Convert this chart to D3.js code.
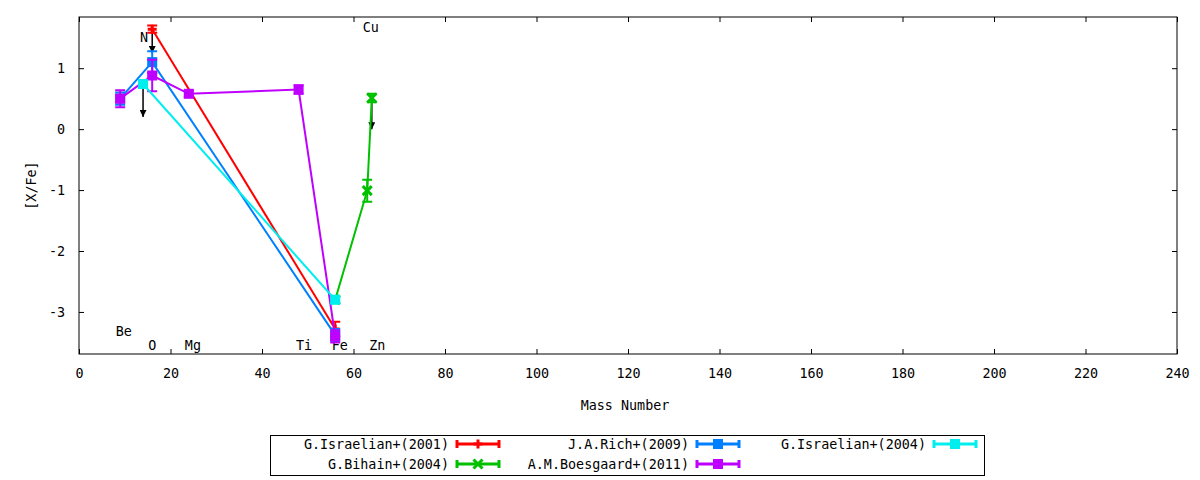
<!DOCTYPE html>
<html>
<head>
<meta charset="utf-8">
<script src="https://cdn.jsdelivr.net/npm/d3@7"></script>
<style>
  body { margin: 0; background: #fff; }
  text { font-family: "DejaVu Sans Mono", monospace; font-size: 13.4px; fill: #000; }
</style>
</head>
<body>
<div id="chart"></div>
<script>
// ---- data ----
const xTicks = [0, 20, 40, 60, 80, 100, 120, 140, 160, 180, 200, 220, 240];
const yTicks = [-3, -2, -1, 0, 1];

const seriesNames = ['G.Israelian+(2001)', 'G.Bihain+(2004)', 'J.A.Rich+(2009)', 'A.M.Boesgaard+(2011)', 'G.Israelian+(2004)'];
const seriesColors = ['#ff0000', '#00c000', '#0080ff', '#c000ff', '#00eeee'];
const seriesMarkers = ['plus', 'cross', 'square', 'square', 'square'];

const israelian2001Mass = [16, 56];
const israelian2001Value = [1.64, -3.28];
const israelian2001Err = [0.06, 0.12];

const bihainMass = [56, 63, 64];
const bihainValue = [-2.8, -1.01, 0.51];
const bihainErr = [0.05, 0.18, 0.07];

const richMass = [9, 16, 56];
const richValue = [0.5, 1.1, -3.38];
const richErr = [0.1, 0.18, 0.1];

const boesgaardMass = [9, 16, 24, 48, 56];
const boesgaardValue = [0.5, 0.88, 0.58, 0.65, -3.4];
const boesgaardErr = [0.14, 0.26, 0.05, 0.07, 0.1];

const israelian2004Mass = [14, 56];
const israelian2004Value = [0.74, -2.8];
const israelian2004Err = [0.05, 0.05];

// upper-limit arrows
const arrowMass = [16, 14, 64];
const arrowFrom = [1.64, 0.74, 0.45];
const arrowTo = [1.25, 0.2, 0.0];

// element labels
const labelNames = ['Be', 'O', 'Mg', 'Ti', 'Fe', 'Zn', 'N', 'Cu'];
const labelMass = [9.8, 16.0, 24.9, 49.2, 57.0, 65.2, 14.2, 63.8];
const labelValue = [-3.31, -3.54, -3.54, -3.54, -3.54, -3.54, 1.51, 1.67];

// ---- build series table ----
function toPoints(mass, value, err) {
    return mass.map((m, i) => ({ x: m, y: value[i], e: err[i] }));
}
const series = [
    toPoints(israelian2001Mass, israelian2001Value, israelian2001Err),
    toPoints(bihainMass, bihainValue, bihainErr),
    toPoints(richMass, richValue, richErr),
    toPoints(boesgaardMass, boesgaardValue, boesgaardErr),
    toPoints(israelian2004Mass, israelian2004Value, israelian2004Err)
].map((pts, i) => ({ name: seriesNames[i], color: seriesColors[i], marker: seriesMarkers[i], points: pts }));

// ---- layout ----
const width = 1200, height = 480;
const plot = { left: 79, right: 1177, top: 17, bottom: 354 };

const svg = d3.select('#chart').append('svg')
    .attr('width', width)
    .attr('height', height);

const xScale = d3.scaleLinear().domain([0, 240]).range([plot.left, plot.right]);
const yScale = d3.scaleLinear().domain([-3.69, 1.84]).range([plot.bottom, plot.top]);

// axes: ticks inward, mirrored on opposite sides
const tickLen = 5;
const plainFmt = d => String(d);
const xAxisB = d3.axisBottom(xScale).tickValues(xTicks).tickFormat(plainFmt).tickSizeInner(-tickLen).tickSizeOuter(0).tickPadding(14);
const xAxisT = d3.axisTop(xScale).tickValues(xTicks).tickSizeInner(-tickLen).tickSizeOuter(0).tickFormat('');
const yAxisL = d3.axisLeft(yScale).tickValues(yTicks).tickFormat(plainFmt).tickSizeInner(-tickLen).tickSizeOuter(0).tickPadding(14);
const yAxisR = d3.axisRight(yScale).tickValues(yTicks).tickSizeInner(-tickLen).tickSizeOuter(0).tickFormat('');

function styleAxis(g) {
    g.select('.domain').remove();
    g.selectAll('line').attr('stroke', '#000').attr('stroke-width', 1);
    g.selectAll('text').attr('font-family', null).attr('font-size', null).attr('fill', '#000');
}
svg.append('g').attr('transform', `translate(0,${plot.bottom})`).call(xAxisB).call(styleAxis);
svg.append('g').attr('transform', `translate(0,${plot.top})`).call(xAxisT).call(styleAxis);
svg.append('g').attr('transform', `translate(${plot.left},0)`).call(yAxisL).call(styleAxis);
svg.append('g').attr('transform', `translate(${plot.right},0)`).call(yAxisR).call(styleAxis);

svg.append('rect')
    .attr('x', plot.left).attr('y', plot.top)
    .attr('width', plot.right - plot.left).attr('height', plot.bottom - plot.top)
    .attr('fill', 'none').attr('stroke', '#000').attr('stroke-width', 1);

// axis titles
svg.append('text')
    .attr('x', 625).attr('y', 410)
    .attr('text-anchor', 'middle')
    .text('Mass Number');
svg.append('text')
    .attr('transform', `translate(36,${(plot.top + plot.bottom) / 2}) rotate(-90)`)
    .attr('text-anchor', 'middle')
    .text('[X/Fe]');

// element labels
svg.append('g').selectAll('text')
    .data(labelNames)
    .join('text')
    .attr('x', (d, i) => xScale(labelMass[i]))
    .attr('y', (d, i) => yScale(labelValue[i]))
    .attr('dy', '0.35em')
    .attr('text-anchor', 'middle')
    .text(d => d);

// arrowhead
svg.append('defs').append('marker')
    .attr('id', 'head')
    .attr('viewBox', '0 0 10 10')
    .attr('refX', 10).attr('refY', 5)
    .attr('markerWidth', 7).attr('markerHeight', 7)
    .attr('markerUnits', 'userSpaceOnUse')
    .attr('orient', 'auto')
    .append('path')
    .attr('d', 'M0,0 L10,5 L0,10 Z')
    .attr('fill', '#000');

svg.append('g').selectAll('line')
    .data(arrowMass)
    .join('line')
    .attr('x1', d => xScale(d)).attr('x2', d => xScale(d))
    .attr('y1', (d, i) => yScale(arrowFrom[i]))
    .attr('y2', (d, i) => yScale(arrowTo[i]))
    .attr('stroke', '#000').attr('stroke-width', 1.5)
    .attr('marker-end', 'url(#head)');

// markers
function drawMarker(g, type, color, cx, cy, s) {
    if (type === 'square') {
        g.append('rect')
            .attr('x', cx - s / 2).attr('y', cy - s / 2)
            .attr('width', s).attr('height', s)
            .attr('fill', color);
    } else if (type === 'plus') {
        g.append('path')
            .attr('d', `M${cx - s / 2},${cy}H${cx + s / 2}M${cx},${cy - s / 2}V${cy + s / 2}`)
            .attr('stroke', color).attr('stroke-width', 3);
    } else {
        g.append('path')
            .attr('d', `M${cx - s / 2},${cy - s / 2}L${cx + s / 2},${cy + s / 2}M${cx - s / 2},${cy + s / 2}L${cx + s / 2},${cy - s / 2}`)
            .attr('stroke', color).attr('stroke-width', 3);
    }
}

const line = d3.line().x(d => xScale(d.x)).y(d => yScale(d.y));
const capHalf = 5;

series.forEach(s => {
    const g = svg.append('g');
    g.append('path')
        .datum(s.points)
        .attr('fill', 'none')
        .attr('stroke', s.color)
        .attr('stroke-width', 2)
        .attr('d', line);
    s.points.forEach(p => {
        const cx = xScale(p.x);
        const yt = yScale(p.y + p.e), yb = yScale(p.y - p.e);
        g.append('path')
            .attr('d', `M${cx},${yt}V${yb}M${cx - capHalf},${yt}H${cx + capHalf}M${cx - capHalf},${yb}H${cx + capHalf}`)
            .attr('stroke', s.color).attr('stroke-width', 2).attr('fill', 'none');
        drawMarker(g, s.marker, s.color, cx, yScale(p.y), s.marker === 'square' ? 10 : 9);
    });
});

// legend (column-major, 2 rows)
const legend = svg.append('g');
legend.append('rect')
    .attr('x', 270.5).attr('y', 435.5).attr('width', 714).attr('height', 40)
    .attr('fill', '#fff').attr('stroke', '#000').attr('stroke-width', 1);

const colTextEnd = [449, 689, 926];
const rowY = [444, 464];
series.forEach((s, i) => {
    const col = Math.floor(i / 2), row = i % 2;
    const tx = colTextEnd[col], ty = rowY[row];
    legend.append('text')
        .attr('x', tx).attr('y', ty)
        .attr('dy', '0.35em')
        .attr('text-anchor', 'end')
        .text(s.name);
    const x0 = tx + 8, x1 = tx + 50, xm = (x0 + x1) / 2;
    legend.append('path')
        .attr('d', `M${x0},${ty}H${x1}M${x0},${ty - 4}V${ty + 4}M${x1},${ty - 4}V${ty + 4}`)
        .attr('stroke', s.color).attr('stroke-width', 3).attr('fill', 'none');
    drawMarker(legend, s.marker, s.color, xm, ty, s.marker === 'square' ? 10 : 9);
});
</script>
</body>
</html>
